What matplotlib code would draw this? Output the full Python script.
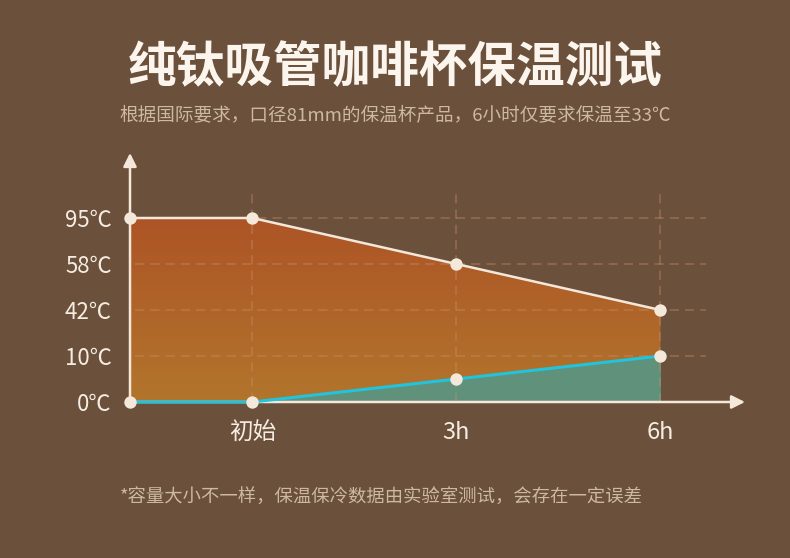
import numpy as np
import matplotlib.pyplot as plt
from matplotlib.colors import LinearSegmentedColormap

plt.rcParams['font.family'] = ['Noto Sans CJK SC', 'DejaVu Sans']

# 数据
title = '纯钛吸管咖啡杯保温测试'
subtitle = '根据国际要求，口径81mm的保温杯产品，6小时仅要求保温至33℃'
footnote = '*容量大小不一样，保温保冷数据由实验室测试，会存在一定误差'
y_ticks = [0, 10, 42, 58, 95]          # 温度刻度（等距排列）
y_tick_labels = ['0℃', '10℃', '42℃', '58℃', '95℃']
x_labels = ['初始', '3h', '6h']
x_hours = [0, 3, 6]
x_start = -1.8                        # 坐标轴起点（小时）
hot_temps = [95, 95, 58, 42]          # 起点、初始、3h、6h
cold_temps = [0, 0, 5, 10]

bg = '#6b503b'
cream = '#f4e8da'


def level(t):
    # 温度 -> 等距刻度位置
    return np.interp(t, y_ticks, np.arange(len(y_ticks)))


xs = np.array([x_start] + x_hours, dtype=float)
hot = level(hot_temps)
cold = level(cold_temps)

fig = plt.figure(figsize=(7.9, 5.58), dpi=100, facecolor=bg)
ax = fig.add_axes([130 / 790, 1 - 402 / 558, 615 / 790, (402 - 153) / 558])
ax.set_facecolor(bg)

# 渐变填充（热饮区域）
cmap = LinearSegmentedColormap.from_list('hot', ['#b2752c', '#ad5426'])
poly = ax.fill_between(xs, cold, hot, facecolor='none', edgecolor='none')
grad = np.linspace(0, 1, 256).reshape(-1, 1)
img = ax.imshow(grad, cmap=cmap, origin='lower', aspect='auto',
                extent=[x_start, xs[-1], 0, 4], zorder=1)
img.set_clip_path(poly.get_paths()[0], transform=ax.transData)
ax.set_xlim(x_start, x_start + 615 / 68)
ax.set_ylim(0, (402 - 153) / 46)

# 冷饮区域
ax.fill_between(xs, 0, cold, color='#60917a', zorder=1.5, lw=0)

# 网格虚线
grid_kw = dict(color='#c9916a', alpha=0.45, lw=1.1, ls=(0, (6, 4)), zorder=2)
for i in range(1, len(y_ticks)):
    ax.plot([x_start + 0.08, 6.67], [i, i], **grid_kw)
for h in x_hours:
    ax.plot([h, h], [0, 4.6], **grid_kw)

# 坐标轴与箭头
for s in ax.spines.values():
    s.set_visible(False)
arrow_kw = dict(arrowstyle='-|>', color=cream, lw=1.8,
                mutation_scale=20, shrinkA=0, shrinkB=0)
ax.annotate('', xy=(1, 0), xytext=(0, 0), xycoords='axes fraction',
            arrowprops=arrow_kw, zorder=3)
ax.annotate('', xy=(0, 1), xytext=(0, 0), xycoords='axes fraction',
            arrowprops=arrow_kw, zorder=3)

# 折线
ax.plot(xs, hot, color=cream, lw=1.8, zorder=4, clip_on=False)
ax.plot(xs, cold, color='#22c3dc', lw=2.2, zorder=4, clip_on=False)
ax.scatter(xs, hot, s=80, color=cream, zorder=5, clip_on=False, lw=0)
ax.scatter(xs, cold, s=80, color=cream, zorder=5, clip_on=False, lw=0)

ax.set_yticks(range(len(y_ticks)))
ax.set_yticklabels(y_tick_labels)
ax.set_xticks(x_hours)
ax.set_xticklabels(x_labels)
ax.tick_params(axis='y', length=0, pad=13, labelsize=16, labelcolor='#f6ede2')
ax.tick_params(axis='x', length=0, pad=14, labelsize=17, labelcolor='#f6ede2')

fig.text(0.5, 1 - 68 / 558, title, ha='center', va='center',
         fontsize=35, color='#fbf5ee', fontweight='bold')
fig.text(0.5, 1 - 115 / 558, subtitle, ha='center', va='center',
         fontsize=13.4, color='#cdb9a3')
fig.text(120 / 790, 1 - 498 / 558, footnote, ha='left', va='center',
         fontsize=13.2, color='#cdb9a3')

fig.savefig('out.png', dpi=100, facecolor=bg)
